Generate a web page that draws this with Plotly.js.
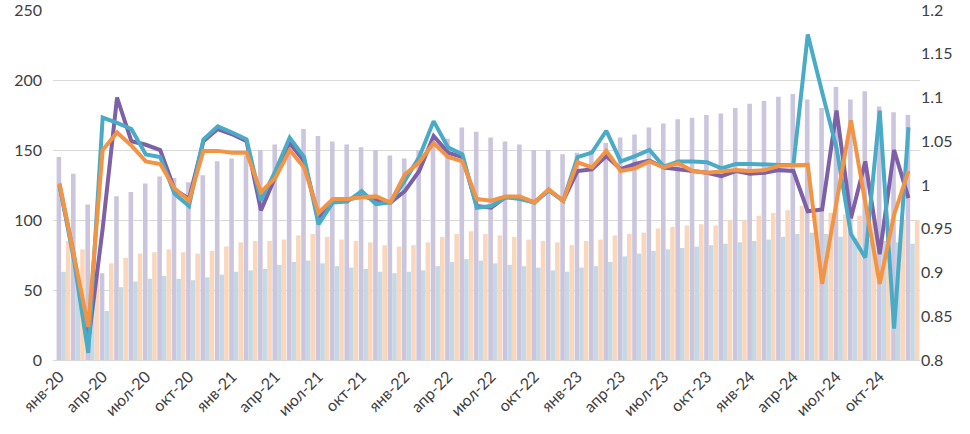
<!DOCTYPE html>
<html>
<head>
<meta charset="utf-8">
<script src="https://cdn.plot.ly/plotly-3.0.1.min.js"></script>
<style>
  body { margin: 0; background: #fff; }
  #myDiv { width: 970px; height: 434px; }
</style>
</head>
<body>
<div id="myDiv"></div>
<script>
var months = [
  'янв-20','фев-20','мар-20','апр-20','май-20','июн-20','июл-20','авг-20','сен-20','окт-20','ноя-20','дек-20',
  'янв-21','фев-21','мар-21','апр-21','май-21','июн-21','июл-21','авг-21','сен-21','окт-21','ноя-21','дек-21',
  'янв-22','фев-22','мар-22','апр-22','май-22','июн-22','июл-22','авг-22','сен-22','окт-22','ноя-22','дек-22',
  'янв-23','фев-23','мар-23','апр-23','май-23','июн-23','июл-23','авг-23','сен-23','окт-23','ноя-23','дек-23',
  'янв-24','фев-24','мар-24','апр-24','май-24','июн-24','июл-24','авг-24','сен-24','окт-24','ноя-24','дек-24'
];

var tickMonths = ['янв-20','апр-20','июл-20','окт-20','янв-21','апр-21','июл-21','окт-21',
  'янв-22','апр-22','июл-22','окт-22','янв-23','апр-23','июл-23','окт-23',
  'янв-24','апр-24','июл-24','окт-24'];

// bars, left axis
var barLav = [145,133,111,62,117,120,126,131,130,127,132,142,
  144,146,150,154,158,165,160,156,154,152,150,146,
  144,150,158,158,166,163,159,156,154,150,150,147,
  148,150,155,159,161,166,169,172,173,175,176,180,
  183,185,188,190,186,180,195,186,192,181,177,175];

var barBlue = [63,60,48,35,52,56,58,60,58,57,59,61,
  63,64,65,68,70,71,69,67,66,65,63,62,
  63,64,67,70,72,71,69,68,67,66,64,63,
  66,67,70,74,76,78,79,80,81,82,83,84,
  85,86,88,90,91,90,88,87,86,85,84,83];

var barPeach = [85,79,65,69,73,76,77,79,77,76,78,81,
  84,85,85,86,89,90,88,86,85,84,82,81,
  82,84,88,90,92,90,89,88,86,85,84,82,
  85,86,89,90,91,94,95,96,97,96,100,100,
  103,105,107,110,108,105,104,103,102,101,100,100];

// lines, right axis
var linePurple = [1.00,0.92,0.82,0.95,1.10,1.05,1.046,1.04,0.995,0.984,1.05,1.064,
  1.058,1.05,0.971,1.01,1.048,1.027,0.963,0.982,0.983,0.987,0.984,0.98,
  0.993,1.016,1.056,1.037,1.032,0.976,0.974,0.986,0.986,0.98,0.994,0.982,
  1.016,1.018,1.033,1.018,1.024,1.028,1.02,1.018,1.016,1.014,1.01,1.016,
  1.013,1.014,1.017,1.016,0.97,0.972,1.085,0.962,1.027,0.921,1.04,0.985];

var lineTeal = [1.00,0.915,0.808,1.077,1.071,1.064,1.035,1.032,0.99,0.976,1.052,1.067,
  1.06,1.052,0.982,1.016,1.054,1.032,0.955,0.98,0.981,0.993,0.978,0.98,
  1.005,1.032,1.073,1.043,1.035,0.974,0.976,0.986,0.984,0.98,0.994,0.982,
  1.032,1.037,1.062,1.027,1.033,1.04,1.021,1.027,1.027,1.026,1.019,1.024,
  1.024,1.023,1.023,1.023,1.172,1.106,1.042,0.944,0.917,1.085,0.836,1.066];

var lineOrange = [1.002,0.922,0.838,1.04,1.06,1.045,1.027,1.024,0.996,0.982,1.039,1.039,
  1.037,1.037,0.992,1.008,1.04,1.02,0.968,0.984,0.984,0.986,0.987,0.98,
  1.012,1.026,1.048,1.032,1.027,0.984,0.982,0.987,0.987,0.98,0.995,0.982,
  1.026,1.02,1.039,1.016,1.019,1.027,1.02,1.025,1.016,1.014,1.016,1.017,
  1.016,1.017,1.022,1.023,1.023,0.887,0.98,1.074,0.98,0.887,0.966,1.016];

var tickFont = {family: 'Lato, "Open Sans", sans-serif', size: 16, color: '#404040'};

function barTrace(vals, color, off) {
  return {
    x: months, y: vals, type: 'bar',
    offset: off, width: 0.32,
    marker: {color: color},
    hoverinfo: 'skip'
  };
}

function lineTrace(vals, color) {
  return {
    x: months, y: vals, type: 'scatter', mode: 'lines',
    yaxis: 'y2',
    line: {color: color, width: 4}
  };
}

var data = [
  barTrace(barLav, '#cbc5dd', -0.2),
  barTrace(barBlue, '#c4d8e6', 0.12),
  barTrace(barPeach, '#f9d7bd', 0.44),
  lineTrace(linePurple, '#7d60a8'),
  lineTrace(lineTeal, '#4aabc6'),
  lineTrace(lineOrange, '#f39445')
];

var layout = {
  width: 970,
  height: 434,
  margin: {l: 53, r: 50, t: 10, b: 74},
  showlegend: false,
  barmode: 'overlay',
  plot_bgcolor: '#ffffff',
  paper_bgcolor: '#ffffff',
  xaxis: {
    type: 'category',
    range: [-0.45, 59.8],
    tickvals: tickMonths,
    ticktext: tickMonths,
    tickangle: -45,
    tickfont: tickFont,
    showgrid: false,
    showline: true,
    linecolor: '#d9d9d9',
    ticks: ''
  },
  yaxis: {
    range: [0, 250],
    tickvals: [0, 50, 100, 150, 200, 250],
    gridcolor: '#d9d9d9',
    zeroline: false,
    tickfont: tickFont,
    ticklabelstandoff: 10,
    ticklabeloverflow: 'allow'
  },
  yaxis2: {
    overlaying: 'y',
    side: 'right',
    range: [0.8, 1.2],
    tickvals: [0.8, 0.85, 0.9, 0.95, 1, 1.05, 1.1, 1.15, 1.2],
    ticktext: ['0.8', '0.85', '0.9', '0.95', '1', '1.05', '1.1', '1.15', '1.2'],
    showgrid: false,
    zeroline: false,
    tickfont: tickFont,
    ticklabeloverflow: 'allow'
  }
};

Plotly.newPlot('myDiv', data, layout, {displayModeBar: false});
</script>
</body>
</html>
